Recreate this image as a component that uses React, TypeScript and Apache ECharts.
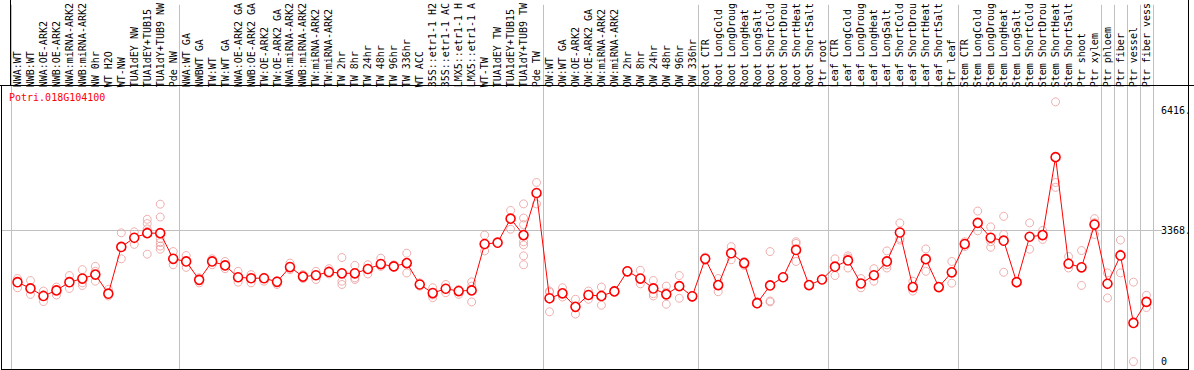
import React, { useEffect, useRef } from 'react';
import * as echarts from 'echarts';

const geneId = 'Potri.018G104100';

const categories = [
  'NWA:WT', 'NWB:WT', 'NWA:OE-ARK2', 'NWB:OE-ARK2', 'NWA:miRNA-ARK2', 'NWB:miRNA-ARK2',
  'NW 0hr', 'WT H2O', 'WT-NW', 'TUA1dEY NW', 'TUA1dEY+TUB15', 'TUA1dY+TUB9 NW', 'Pde NW',
  'NWA:WT GA', 'NWBWT GA', 'TW:WT', 'TW:WT GA', 'NWA:OE-ARK2 GA', 'NWB:OE-ARK2 GA',
  'TW:OE-ARK2', 'TW:OE-ARK2 GA', 'NWA:miRNA-ARK2', 'NWB:miRNA-ARK2', 'TW:miRNA-ARK2',
  'TW:miRNA-ARK2', 'TW 2hr', 'TW 8hr', 'TW 24hr', 'TW 48hr', 'TW 96hr', 'TW 336hr', 'WT ACC',
  '35S::etr1-1 H2', '35S::etr1-1 AC', 'LMX5::etr1-1 H', 'LMX5::etr1-1 A', 'WT-TW',
  'TUA1dEY TW', 'TUA1dEY+TUB15', 'TUA1dY+TUB9 TW', 'Pde TW',
  'OW:WT', 'OW:WT GA', 'OW:OE-ARK2', 'OW:OE-ARK2 GA', 'OW:miRNA-ARK2', 'OW:miRNA-ARK2',
  'OW 2hr', 'OW 8hr', 'OW 24hr', 'OW 48hr', 'OW 96hr', 'OW 336hr',
  'Root CTR', 'Root LongCold', 'Root LongDroug', 'Root LongHeat', 'Root LongSalt',
  'Root ShortCold', 'Root ShortDrou', 'Root ShortHeat', 'Root ShortSalt', 'Ptr root',
  'Leaf CTR', 'Leaf LongCold', 'Leaf LongDroug', 'Leaf LongHeat', 'Leaf LongSalt',
  'Leaf ShortCold', 'Leaf ShortDrou', 'Leaf ShortHeat', 'Leaf ShortSalt', 'Ptr leaf',
  'Stem CTR', 'Stem LongCold', 'Stem LongDroug', 'Stem LongHeat', 'Stem LongSalt',
  'Stem ShortCold', 'Stem ShortDrou', 'Stem ShortHeat', 'Stem ShortSalt', 'Ptr shoot',
  'Ptr xylem', 'Ptr phloem', 'Ptr fiber', 'Ptr vessel', 'Ptr fiber vess',
];

const meanValues = [
  2037, 1877, 1684, 1827, 2037, 2130, 2231, 1743, 2938, 3173, 3291, 3291, 2635,
  2567, 2096, 2567, 2466, 2163, 2138, 2138, 2046, 2424, 2180, 2214, 2298, 2264, 2264,
  2374, 2500, 2441, 2525, 1978, 1759, 1869, 1810, 1827, 3013, 3047, 3662, 3241, 4318,
  1625, 1751, 1406, 1709, 1684, 1801, 2315, 2130, 1877, 1726, 1936, 1675,
  2635, 1962, 2778, 2525, 1499, 1953, 2163, 2862, 1962, 2105,
  2433, 2593, 2003, 2214, 2567, 3308, 1911, 2626, 1911, 2290,
  3013, 3553, 3174, 3098, 2038, 3199, 3241, 5236, 2509, 2417,
  3511, 1996, 2720, 994, 1533,
];

const replicates: number[][] = [
  [2130, 2040, 1894], [2079, 1877, 1726], [1810, 1680, 1541], [1911, 1827, 1709],
  [2206, 2037, 1877], [2357, 2130, 2020, 1953], [2441, 2315, 2062], [1852, 1743, 1684],
  [3300, 2938, 2635], [3325, 3173, 3005], [3645, 3535, 3400, 2753],
  [4032, 3704, 3150, 3050, 2960, 2880], [2820, 2635, 2483],
  [2719, 2567, 2416], [2150, 2110, 2020], [2635, 2567, 2483], [2567, 2466, 2382],
  [2315, 2163, 2037], [2231, 2138, 2020], [2163, 2138, 2062], [2079, 2046, 1978],
  [2525, 2424, 2357], [2231, 2180, 2130], [2315, 2214, 2105], [2382, 2298, 2248],
  [2668, 2062, 1978], [2466, 2147, 2105], [2483, 2374, 2248], [2652, 2500, 2441],
  [2480, 2420], [2778, 2525, 2273], [2020, 1978, 1936], [1894, 1709, 1642],
  [1978, 1869, 1768], [1850, 1810, 1726], [2045, 1936, 1532], [3241, 3013, 2837],
  [3060, 3047, 3030], [3872, 3662, 3392], [4040, 3678, 3510, 3072, 2988, 2710, 2483],
  [4587, 4318, 4040],
  [1810, 1780, 1280], [1894, 1751, 1658], [1600, 1406, 1221], [1810, 1709, 1600],
  [1911, 1684, 1448], [1830, 1801, 1780], [2330, 2315, 2300], [2340, 2130, 1995],
  [2079, 1743, 1684], [1936, 1780, 1473], [2206, 1936, 1625], [1700, 1675, 1650],
  [2680, 2635, 2590], [2130, 1962, 1793], [2946, 2778, 2610], [2567, 2525, 2466],
  [1540, 1499, 1480], [2820, 1557, 1532], [2163], [3072, 3030, 2567], [1962], [2105],
  [2635, 2433, 2206], [2711, 2660, 2399], [2130, 2003, 1894], [2382, 2214, 2062],
  [2837, 2480, 2399], [3552, 3157, 3115], [2062, 1911, 1810], [2887, 2626, 2315],
  [1911], [2567, 2290, 2012],
  [3072, 2946], [3856, 3553, 3351], [3452, 3073, 2930], [3721, 3258, 2290], [2038, 2010],
  [3553, 3199, 2880], [3360, 3241, 3132], [6650, 4588, 4462], [2694, 2509, 2400],
  [2846, 2417, 1954], [3662, 3560, 3258], [2274, 1996, 1634], [3115, 2760, 2274],
  [2038, 5], [1701, 1533, 1390],
];

const groupStarts = [0, 13, 41, 53, 63, 73, 84, 85, 86, 87];
const yTicks = [0, 3368, 6416];
const gridLineValue = 3368;

export default function App() {
  const ref = useRef<HTMLDivElement>(null);
  useEffect(() => {
    document.body.style.margin = '0';
    const chart = echarts.init(ref.current!, null, { renderer: 'svg' });
    const mono = 'DejaVu Sans Mono';
    const repData: number[][] = [];
    replicates.forEach((arr, i) => arr.forEach((v) => repData.push([i, v])));
    chart.setOption({
      animation: false,
      title: {
        text: geneId, left: 9, top: 92, padding: 0,
        textStyle: { color: '#ff0000', fontSize: 10, fontFamily: mono, fontWeight: 'normal' },
      },
      grid: { left: 11, top: 0, width: 1144, height: 369 },
      xAxis: {
        type: 'category', data: categories, position: 'top', offset: -85.5, boundaryGap: true,
        axisLine: { show: false }, axisTick: { show: false },
        axisLabel: { rotate: 90, interval: 0, margin: 3, fontSize: 10, fontFamily: mono, color: '#000' },
        splitLine: {
          show: true,
          interval: (i: number) => groupStarts.includes(i),
          lineStyle: { color: '#c0c0c0', width: 1 },
        },
      },
      yAxis: {
        type: 'value', min: -184, max: 9133, position: 'right',
        axisLine: { show: false }, axisTick: { show: false }, splitLine: { show: false },
        axisLabel: {
          customValues: yTicks,
          formatter: (v: number) => (v === 0 ? '0' : v + '.'),
          margin: 8, fontSize: 10, fontFamily: mono, color: '#000',
        },
      },
      series: [
        {
          type: 'scatter', data: repData, symbol: 'circle', symbolSize: 8, z: 2,
          itemStyle: { color: 'rgba(0,0,0,0)', borderColor: '#eb9a9a', borderWidth: 1 },
        },
        {
          type: 'line', data: meanValues, symbol: 'circle', symbolSize: 9, z: 3,
          lineStyle: { color: '#ff0000', width: 1 },
          itemStyle: { color: '#ffffff', borderColor: '#ff0000', borderWidth: 1.6 },
        },
      ],
    });
    const yg = Math.round(chart.convertToPixel({ yAxisIndex: 0 }, gridLineValue) as number) + 0.5;
    const black = { stroke: '#000', lineWidth: 1 };
    chart.setOption({
      graphic: [
        { type: 'line', z: 0, shape: { x1: 1.5, y1: yg, x2: 1162, y2: yg }, style: { stroke: '#c0c0c0', lineWidth: 1 } },
        { type: 'line', shape: { x1: 0, y1: 85.5, x2: 1194, y2: 85.5 }, style: black },
        { type: 'line', shape: { x1: 10.5, y1: 0, x2: 10.5, y2: 85.5 }, style: black },
        { type: 'line', shape: { x1: 1.5, y1: 85.5, x2: 1.5, y2: 370 }, style: black },
        { type: 'line', shape: { x1: 1188.5, y1: 0, x2: 1188.5, y2: 370 }, style: black },
        { type: 'line', shape: { x1: 1, y1: 369.5, x2: 1189, y2: 369.5 }, style: black },
      ],
    });
    return () => chart.dispose();
  }, []);
  return <div ref={ref} style={{ width: 1194, height: 370 }} />;
}
